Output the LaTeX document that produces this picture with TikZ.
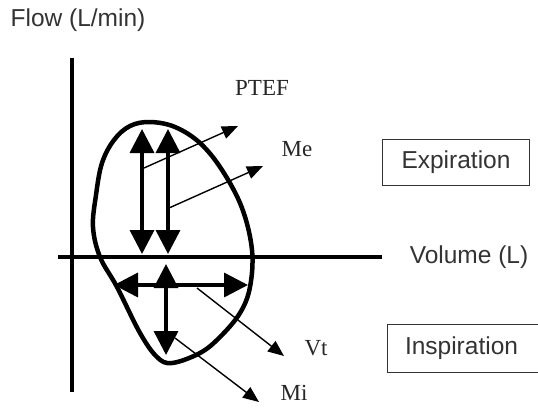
\documentclass[tikz,border=0pt]{standalone}
\usepackage{fontspec}
\setmainfont{Liberation Serif}
\newfontfamily\lsans{Liberation Sans}
\usetikzlibrary{arrows.meta}
\definecolor{txtgray}{HTML}{333333}
\tikzset{
  axis/.style={line width=4pt, black},
  loop/.style={line width=4.5pt, black, line join=round},
  bigarrow/.style={line width=3.5pt, black, {Triangle[length=24pt,width=24pt]}-{Triangle[length=24pt,width=24pt]}},
  thinarrow/.style={line width=1.4pt, black, -{Triangle[length=16pt,width=13pt]}},
  sanslabel/.style={font=\lsans\fontsize{24.5}{28}\selectfont, text=txtgray, inner sep=0pt},
  seriflabel/.style={font=\fontsize{23}{27}\selectfont, text=black!85, inner sep=0pt},
  boxlabel/.style={sanslabel, draw=txtgray, line width=1pt}
}
\begin{document}
\begin{tikzpicture}[x=1pt,y=-1pt]
\useasboundingbox (0,0) rectangle (538,407);
% axes
\coordinate (vtop) at (72,58);
\coordinate (vbot) at (72,392);
\coordinate (hl) at (58,257);
\coordinate (hr) at (382,257);
\draw[axis] (vtop) -- (vbot);
\draw[axis] (hl) -- (hr);
% loop
\draw[loop] plot[smooth cycle, tension=0.6] coordinates {
 (93,227) (96,195) (102,163) (114,140) (130,126) (150,122) (175,127)
 (200,143) (222,170) (242,208) (252,250) (250,287) (240,313) (220,337)
 (200,353) (172,363) (157,357) (140,333) (117,287) (100,257)};
% expiration arrows
\coordinate (e1t) at (142,129);
\coordinate (e1b) at (142,254);
\coordinate (e2t) at (168,129);
\coordinate (e2b) at (168,254);
\draw[bigarrow] (e1t) -- (e1b);
\draw[bigarrow] (e2t) -- (e2b);
% inspiration arrows
\coordinate (ivt) at (166,264);
\coordinate (ivb) at (166,355);
\draw[bigarrow] (ivt) -- (ivb);
\coordinate (ihl) at (114,285);
\coordinate (ihr) at (248,285);
\draw[bigarrow] (ihl) -- (ihr);
% labels
\node[sanslabel] (flow) at (78,20) {Flow (L/min)};
\node[sanslabel] (volume) at (469,257) {Volume (L)};
\node[seriflabel] (ptef) at (262,88) {PTEF};
\node[seriflabel] (me) at (297,149) {Me};
\node[seriflabel] (vt) at (316,348) {Vt};
\node[seriflabel] (mi) at (294,393) {Mi};
\node[boxlabel, minimum width=147pt, minimum height=46pt] (exp) at (456,162) {Expiration};
\node[boxlabel, minimum width=160pt, minimum height=48pt, text width=140pt, align=left] (insp) at (467,348) {\hspace*{8pt}Inspiration};
% thin arrows
\coordinate (m1s) at (144,168);
\coordinate (m1e) at (238,126);
\coordinate (m2s) at (169,208);
\coordinate (m2e) at (263,166);
\coordinate (vts) at (197,288);
\coordinate (vte) at (284,356);
\coordinate (mis) at (175,338);
\coordinate (mie) at (259,402);
\draw[thinarrow] (m1s) -- (m1e);
\draw[thinarrow] (m2s) -- (m2e);
\draw[thinarrow] (vts) -- (vte);
\draw[thinarrow] (mis) -- (mie);
\end{tikzpicture}
\end{document}
